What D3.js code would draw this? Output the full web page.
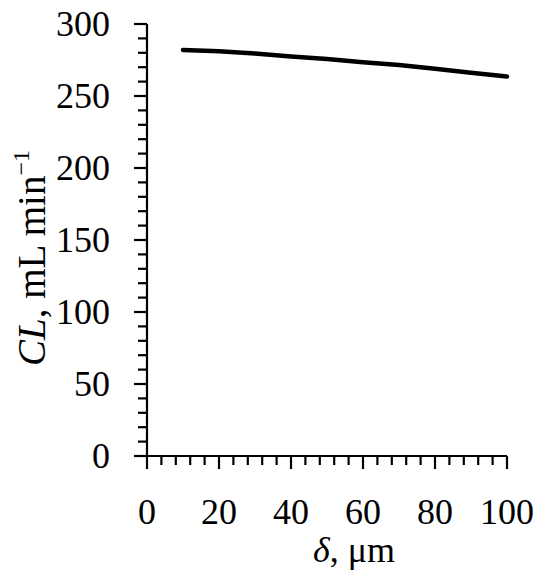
<!DOCTYPE html>
<html>
<head>
<meta charset="utf-8">
<script src="https://cdn.jsdelivr.net/npm/d3@7"></script>
<style>
	body { margin: 0; background: #fff; }
	svg text { font-family: "Liberation Serif", "Times New Roman", serif; fill: #000; }
</style>
</head>
<body>
<svg width="550" height="581"></svg>
<script>
// film thickness, um
var delta = [10, 20, 30, 40, 50, 60, 70, 80, 90, 100];
// clearance, mL/min
var clearance = [282, 281, 279.5, 277.5, 275.7, 273.5, 271.5, 269, 266.2, 263.5];

var xTicks = [0, 20, 40, 60, 80, 100];
var yTicks = [0, 50, 100, 150, 200, 250, 300];

function buildChart() {
	var svg = d3.select("svg");

	// scales
	var x = d3.scaleLinear().domain([0, 100]).range([147, 507]);
	var y = d3.scaleLinear().domain([0, 300]).range([456, 24]);

	var axes = svg.append("g").attr("stroke", "#000").attr("stroke-width", 2.2);

	// y axis: minor every 10, major every 50
	axes.append("line").attr("x1", x(0)).attr("x2", x(0)).attr("y1", y(300)).attr("y2", y(0));
	axes.selectAll("line.ymin")
		.data(d3.range(0, 301, 10))
		.enter()
		.append("line")
		.attr("class", "ymin")
		.attr("x1", function(d) { return d % 50 === 0 ? x(0) - 13 : x(0) - 9; })
		.attr("x2", x(0))
		.attr("y1", function(d) { return y(d); })
		.attr("y2", function(d) { return y(d); });

	// x axis: minor every 4, major every 20
	axes.append("line").attr("x1", x(0) - 13).attr("x2", x(100)).attr("y1", y(0)).attr("y2", y(0));
	axes.selectAll("line.xmin")
		.data(d3.range(0, 101, 4))
		.enter()
		.append("line")
		.attr("class", "xmin")
		.attr("x1", function(d) { return x(d); })
		.attr("x2", function(d) { return x(d); })
		.attr("y1", y(0))
		.attr("y2", function(d) { return d % 20 === 0 ? y(0) + 13 : y(0) + 9; });

	// tick labels
	svg.append("g")
		.selectAll("text")
		.data(yTicks)
		.enter()
		.append("text")
		.attr("x", 110)
		.attr("y", function(d) { return y(d); })
		.attr("dy", "0.34em")
		.attr("text-anchor", "end")
		.attr("font-size", 36)
		.text(function(d) { return d; });

	svg.append("g")
		.selectAll("text")
		.data(xTicks)
		.enter()
		.append("text")
		.attr("x", function(d) { return x(d); })
		.attr("y", 524)
		.attr("text-anchor", "middle")
		.attr("font-size", 36)
		.text(function(d) { return d; });

	// axis titles
	var xt = svg.append("text")
		.attr("x", 354)
		.attr("y", 562)
		.attr("text-anchor", "middle")
		.attr("font-size", 36);
	xt.append("tspan").attr("font-style", "italic").text("δ");
	xt.append("tspan").text(", μm");

	var yt = svg.append("text")
		.attr("transform", "translate(45,258) rotate(-90)")
		.attr("text-anchor", "middle")
		.attr("font-size", 39);
	yt.append("tspan").attr("font-style", "italic").text("CL");
	yt.append("tspan").text(", mL min");
	yt.append("tspan").attr("font-size", 24).attr("dy", -16).text("−1");

	// data line
	var line = d3.line()
		.x(function(d, i) { return x(delta[i]); })
		.y(function(d) { return y(d); });

	svg.append("path")
		.datum(clearance)
		.attr("d", line)
		.attr("fill", "none")
		.attr("stroke", "#000")
		.attr("stroke-width", 4.5)
		.attr("stroke-linecap", "round");
}

buildChart();
</script>
</body>
</html>
